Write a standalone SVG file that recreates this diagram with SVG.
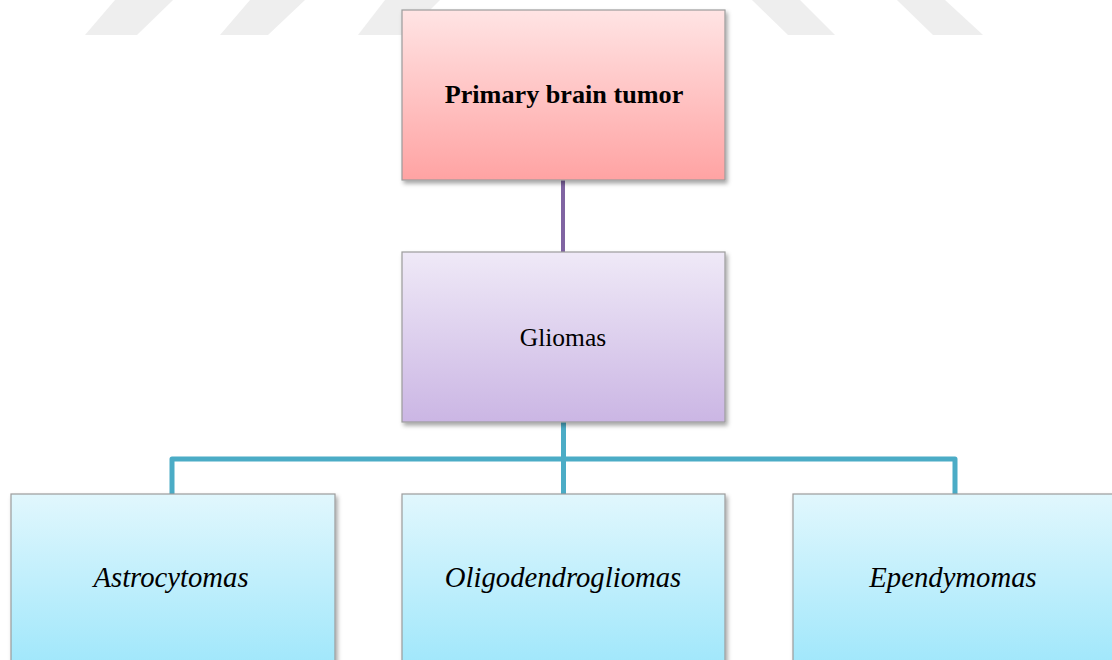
<svg xmlns="http://www.w3.org/2000/svg" width="1112" height="660" viewBox="0 0 1112 660">
<defs>
<linearGradient id="gRed" x1="0" y1="0" x2="0" y2="1"><stop offset="0" stop-color="#ffe4e4"/><stop offset="1" stop-color="#ffa3a3"/></linearGradient>
<linearGradient id="gPur" x1="0" y1="0" x2="0" y2="1"><stop offset="0" stop-color="#efe9f7"/><stop offset="1" stop-color="#cbb6e4"/></linearGradient>
<linearGradient id="gBlu" x1="0" y1="0" x2="0" y2="1"><stop offset="0" stop-color="#e1f7fd"/><stop offset="1" stop-color="#a0e7fb"/></linearGradient>
<filter id="sh" x="-5%" y="-5%" width="112%" height="115%"><feDropShadow dx="2" dy="3" stdDeviation="2" flood-color="#000" flood-opacity="0.35"/></filter>
</defs>
<style>
.box{stroke:#9c9c9c;stroke-width:1.2;filter:url(#sh)}
.wm{fill:#eeeeee}
.t{font-family:"Liberation Serif","Times New Roman",serif;fill:#000;text-anchor:middle}
.b{font-weight:bold;font-size:26.2px}
.r{font-size:25.5px}
.i{font-style:italic;font-size:28.7px}
.c{fill:none;stroke-linejoin:round}
</style>
<rect width="1112" height="660" fill="#fff"/>
<g id="watermark">
<polygon class="wm" points="115,0 173,0 137,35 85,35"/>
<polygon class="wm" points="250,0 305,0 268,35 220,35"/>
<polygon class="wm" points="385,0 440,0 405,35 358,35"/>
<polygon class="wm" points="752,0 800,0 835,35 788,35"/>
<polygon class="wm" points="897,0 945,0 983,35 933,35"/>
</g>
<g id="connectors">
<line class="c" x1="563" y1="180" x2="563" y2="252" stroke="#8064a2" stroke-width="4"/>
<path class="c" d="M563.5,422 V459 M172,494 V459 H955 V494 M563.5,459 V494" stroke="#4bacc6" stroke-width="5"/>
</g>
<g id="primary">
<rect class="box" x="402" y="10" width="323" height="170" fill="url(#gRed)"/>
<text class="t b" x="564" y="103">Primary brain tumor</text>
</g>
<g id="gliomas">
<rect class="box" x="402" y="252" width="323" height="170" fill="url(#gPur)"/>
<text class="t r" x="563" y="346">Gliomas</text>
</g>
<g id="astrocytomas">
<rect class="box" x="11" y="494" width="324" height="172" fill="url(#gBlu)"/>
<text class="t i" x="171" y="587">Astrocytomas</text>
</g>
<g id="oligodendrogliomas">
<rect class="box" x="402" y="494" width="323" height="172" fill="url(#gBlu)"/>
<text class="t i" x="563" y="587">Oligodendrogliomas</text>
</g>
<g id="ependymomas">
<rect class="box" x="793" y="494" width="323" height="172" fill="url(#gBlu)"/>
<text class="t i" x="953" y="587">Ependymomas</text>
</g>
</svg>
